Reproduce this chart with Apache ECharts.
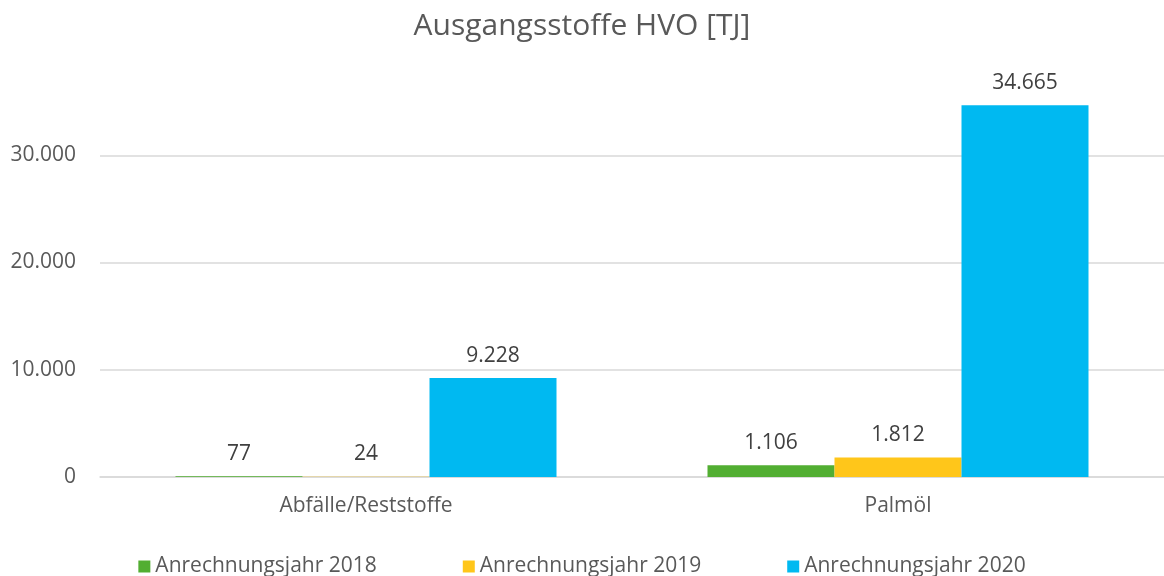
<!DOCTYPE html>
<html><head><meta charset="utf-8">
<script src="https://cdn.jsdelivr.net/npm/echarts@6/dist/echarts.min.js"></script>
<style>html,body{margin:0;padding:0;background:#fff}#c{width:1164px;height:576px}</style>
</head><body><div id="c"></div>
<script>
const categories = ['Abfälle/Reststoffe', 'Palmöl'];
const seriesNames = ['Anrechnungsjahr 2018', 'Anrechnungsjahr 2019', 'Anrechnungsjahr 2020'];
const values2018 = [77, 1106];
const values2019 = [24, 1812];
const values2020 = [9228, 34665];
const colors = ['#52AE32', '#FFC61A', '#00B9F1'];
const FONT = '"Open Sans", "Noto Sans", sans-serif';
const fmt = v => String(v).replace(/\B(?=(\d{3})+(?!\d))/g, '.');
const allValues = [values2018, values2019, values2020];
const chart = echarts.init(document.getElementById('c'));
chart.setOption({
  animation: false,
  textStyle: { fontFamily: FONT },
  title: { text: 'Ausgangsstoffe HVO [TJ]', left: 'center', top: 6,
    textStyle: { fontFamily: FONT, fontSize: 30, fontWeight: 'normal', color: '#595959' } },
  legend: { top: 551, left: 'center', itemWidth: 12, itemHeight: 12, itemGap: 86,
    icon: 'rect', textStyle: { fontFamily: FONT, fontSize: 21, color: '#595959' } },
  grid: { left: 100, right: 0, top: 48, bottom: 99 },
  xAxis: { type: 'category', data: categories,
    axisLine: { lineStyle: { color: '#D9D9D9', width: 1.5 } }, axisTick: { show: false },
    axisLabel: { fontFamily: FONT, fontSize: 21, color: '#595959', margin: 19 } },
  yAxis: { type: 'value', min: 0, max: 40000, interval: 10000,
    axisLine: { show: false }, axisTick: { show: false },
    splitLine: { showMaxLine: false, lineStyle: { color: '#D9D9D9', width: 1.5 } },
    axisLabel: { fontFamily: FONT, fontSize: 21, color: '#595959', margin: 24, showMaxLabel: false,
      formatter: v => v === 40000 ? '' : fmt(v) } },
  series: seriesNames.map((n, i) => ({
    name: n, type: 'bar', data: allValues[i], barWidth: 127, barGap: '0%',
    itemStyle: { color: colors[i] },
    label: { show: true, position: 'top', distance: 12, fontFamily: FONT, fontSize: 21, color: '#404040',
      formatter: p => fmt(p.value) }
  }))
});
</script></body></html>
